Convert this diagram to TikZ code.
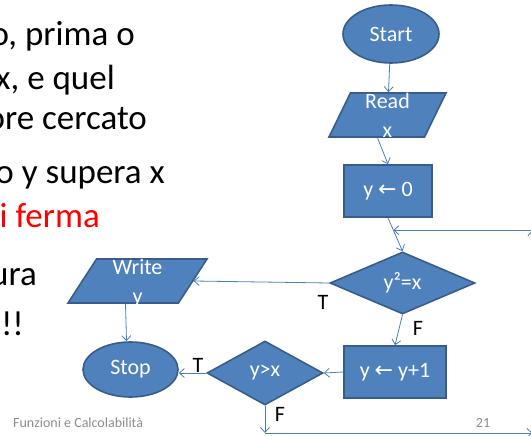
\documentclass[tikz,border=0pt]{standalone}
\usepackage{fontspec}
\setmainfont{Carlito}
\newfontfamily\arrowfont{DejaVu Sans}
\usetikzlibrary{shapes.geometric,arrows.meta,calc,positioning}

\definecolor{boxblue}{HTML}{4F81BD}
\definecolor{boxedge}{HTML}{385D8A}
\definecolor{linkblue}{HTML}{4A7EBB}
\definecolor{footgray}{HTML}{8C8C8C}

\newcommand{\getsarrow}{{\arrowfont ←}}
\newcommand{\twolines}[2]{\raisebox{-7pt}[0pt][0pt]{\begin{tabular}{@{}c@{}}#1\\#2\end{tabular}}}

\tikzset{
  block/.style={fill=boxblue, draw=boxedge, line width=1.6pt, text=white,
    font=\fontsize{22}{29}\selectfont, inner sep=0pt},
  term/.style={block, ellipse, minimum width=96pt, minimum height=58pt},
  io/.style={block, trapezium, trapezium stretches body, inner ysep=22pt},
  proc/.style={block, rectangle, minimum height=52pt},
  test/.style={block, diamond},
  flow/.style={->, draw=linkblue, line width=0.8pt},
  tflabel/.style={font=\fontsize{22}{26}\selectfont, inner sep=0pt},
  slidetext/.style={font=\fontsize{35}{40}\selectfont, anchor=base east, inner sep=0pt},
  foot/.style={font=\fontsize{14}{17}\selectfont, text=footgray, inner sep=0pt}
}

\begin{document}
\begin{tikzpicture}[x=1pt, y=-1pt, >={Straight Barb[length=5pt,width=9pt]}]
  \useasboundingbox (0,0) rectangle (531,436);
  \clip (0,0) rectangle (531,436);

  % Slide text (cut at the left edge)
  \node[slidetext] (line1) at (135,46) {o, prima o};
  \node[slidetext] (line2) at (115,90) {x, e quel};
  \node[slidetext] (line3) at (147,130) {ore cercato};
  \node[slidetext] (line4) at (165,183) {o y supera x};
  \node[slidetext, text=red] (line5) at (100,227) {i ferma};
  \node[slidetext] (line6) at (37,285) {ura};
  \node[slidetext] (line7) at (24,335) {!!};

  % Flowchart
  \node[term] (start) at (391,34) {Start};
  \node[io, trapezium left angle=64, trapezium right angle=116, minimum width=117pt]
    (read) at (387.5,115) {\twolines{Read}{x}};
  \node[proc, minimum width=88pt] (init) at (388,191) {y \getsarrow{} 0};
  \node[test, minimum width=145pt, minimum height=62pt, aspect=2.3]
    (check) at (402.5,283) {y²=x};
  \node[proc, minimum width=102pt] (incr) at (395,372) {y \getsarrow{} y+1};
  \node[test, minimum width=116pt, minimum height=64pt, aspect=1.8]
    (bound) at (265,373) {y>x};
  \node[io, trapezium left angle=57, trapezium right angle=123, minimum width=139pt]
    (write) at (137.5,281) {\twolines{Write}{y}};
  \node[term, minimum width=95pt, minimum height=55pt] (stop) at (130.5,369.5) {Stop};

  % Branch labels
  \node[tflabel] (t1) at (323,302) {T};
  \node[tflabel] (f1) at (418,328) {F};
  \node[tflabel] (t2) at (198,365) {T};
  \node[tflabel] (f2) at (280,414) {F};

  % Footer
  \node[foot, anchor=base west] (ftitle) at (13,427) {Funzioni e Calcolabilità};
  \node[foot, anchor=base] (fpage) at (483,427) {21};

  % Arrows
  \coordinate (join) at ($(init.south)!0.37!(check.north)$);
  \coordinate (low) at (bound.south |- 0,433);
  \coordinate (lowright) at (532.5,433);
  \coordinate (upright) at (lowright |- join);
  \draw[flow] (start) -- (read);
  \draw[flow] ([xshift=-10pt]read.south) -- (init.north);
  \draw[flow] (init.south) -- (check.north);
  \draw[flow] (check.west) -- (write.east);
  \draw[flow] (check.south) -- (incr.north);
  \draw[flow] (incr.west) -- (bound.east);
  \draw[flow] (bound.west) -- (bound.west -| stop.east);
  \draw[flow] ([xshift=-12pt]write.south) -- ([xshift=-4pt]stop.north);
  \draw[flow] (bound.south) -- (low);
  \draw[flow] (low) -- (lowright);
  \draw[flow] (lowright) -- (upright);
  \draw[flow] (upright) -- (join);
\end{tikzpicture}
\end{document}
